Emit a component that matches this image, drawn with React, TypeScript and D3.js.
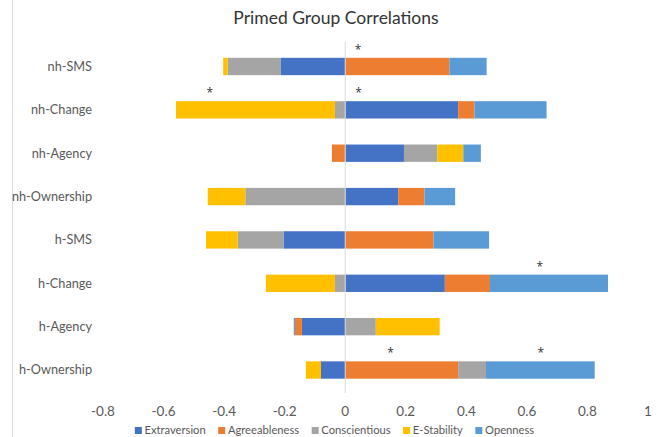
import React, { useEffect, useRef } from "react";
import * as d3 from "d3";

const title = "Primed Group Correlations";
const categories = ["nh-SMS", "nh-Change", "nh-Agency", "nh-Ownership", "h-SMS", "h-Change", "h-Agency", "h-Ownership"];
const seriesNames = ["Extraversion", "Agreeableness", "Conscientious", "E-Stability", "Openness"];
const seriesColors = ["#4472C4", "#ED7D31", "#A5A5A5", "#FFC000", "#5B9BD5"];
const extraversion = [-0.214, 0.373, 0.194, 0.175, -0.204, 0.329, -0.143, -0.08];
const agreeableness = [0.344, 0.054, -0.044, 0.087, 0.292, 0.149, -0.023, 0.373];
const conscientious = [-0.174, -0.034, 0.11, -0.33, -0.151, -0.034, 0.101, 0.092];
const eStability = [-0.015, -0.525, 0.086, -0.124, -0.105, -0.228, 0.211, -0.05];
const openness = [0.123, 0.238, 0.058, 0.101, 0.183, 0.39, -0.004, 0.359];
const xTicks = [-0.8, -0.6, -0.4, -0.2, 0, 0.2, 0.4, 0.6, 0.8, 1];
// significance markers: category and x value where "*" is shown
const starCats = ["nh-SMS", "nh-Change", "nh-Change", "h-Change", "h-Ownership", "h-Ownership"];
const starX = [0.042, -0.447, 0.044, 0.643, 0.15, 0.646];

const FONT = "Lato, 'Open Sans', sans-serif";

export default function App() {
  const ref = useRef<SVGSVGElement>(null);
  useEffect(() => {
    const svg = d3.select(ref.current);
    svg.selectAll("*").remove();
    const W = 660, H = 437;
    const x = d3.scaleLinear().domain([-0.8, 1]).range([103, 648]);
    const y = d3.scaleBand().domain(categories).range([44.8, 391.7]).paddingInner(0.6).paddingOuter(0.3);

    const all = [extraversion, agreeableness, conscientious, eStability, openness];
    const table = categories.map((c, i) => {
      const row: any = { cat: c };
      seriesNames.forEach((s, j) => (row[s] = all[j][i]));
      return row;
    });
    const stacked = d3.stack<any>().keys(seriesNames).offset(d3.stackOffsetDiverging)(table);

    svg.append("rect").attr("width", W).attr("height", H).attr("fill", "#fff");
    svg.append("line").attr("x1", 12.5).attr("x2", 12.5).attr("y1", 0).attr("y2", H)
      .attr("stroke", "#d9d9d9").attr("stroke-width", 1);

    svg.append("text").attr("x", 336).attr("y", 24).attr("text-anchor", "middle")
      .attr("font-family", FONT).attr("font-size", 17.5).attr("fill", "#333").text(title);

    stacked.forEach((layer, j) => {
      svg.append("g").attr("fill", seriesColors[j]).selectAll("rect").data(layer).join("rect")
        .attr("x", (d: any) => x(Math.min(d[0], d[1])))
        .attr("width", (d: any) => Math.abs(x(d[1]) - x(d[0])))
        .attr("y", (d: any) => y(d.data.cat)!)
        .attr("height", y.bandwidth());
    });

    svg.append("line").attr("x1", x(0)).attr("x2", x(0)).attr("y1", 42).attr("y2", 393)
      .attr("stroke", "#d9d9d9").attr("stroke-width", 1);

    svg.append("g").selectAll("text").data(categories).join("text")
      .attr("x", 92).attr("y", (d) => y(d)! + y.bandwidth() / 2)
      .attr("dy", "0.35em").attr("text-anchor", "end")
      .attr("font-family", FONT).attr("font-size", 12.7).attr("fill", "#595959").text((d) => d);

    svg.append("g").selectAll("text").data(xTicks).join("text")
      .attr("x", (d) => x(d)).attr("y", 411).attr("dy", "0.35em").attr("text-anchor", "middle")
      .attr("font-family", FONT).attr("font-size", 13.5).attr("fill", "#595959")
      .text((d) => String(+d.toFixed(1)));

    svg.append("g").selectAll("text").data(starCats).join("text")
      .attr("x", (_d, i) => x(starX[i])).attr("y", (d) => y(d)! - 4)
      .attr("text-anchor", "middle").attr("font-family", "'Open Sans', sans-serif")
      .attr("font-size", 12).attr("fill", "#333")
      .text("*");

    const lg = svg.append("g");
    const items = seriesNames.map((s, i) => {
      const g = lg.append("g");
      g.append("rect").attr("width", 7).attr("height", 7).attr("y", -3.5).attr("fill", seriesColors[i]);
      const t = g.append("text").attr("x", 9.7).attr("dy", "0.35em").attr("font-family", FONT)
        .attr("font-size", 11.2).attr("fill", "#595959").text(s);
      const w = 9.7 + (t.node() as SVGTextElement).getComputedTextLength();
      return { g, w };
    });
    const gap = 12.5;
    const total = d3.sum(items, (d) => d.w) + gap * (items.length - 1);
    let cx = 334.5 - total / 2;
    items.forEach((it) => {
      it.g.attr("transform", `translate(${cx},430.5)`);
      cx += it.w + gap;
    });
  }, []);
  return (
    <svg ref={ref} width={660} height={437} style={{ position: "absolute", left: 0, top: 0 }} />
  );
}
